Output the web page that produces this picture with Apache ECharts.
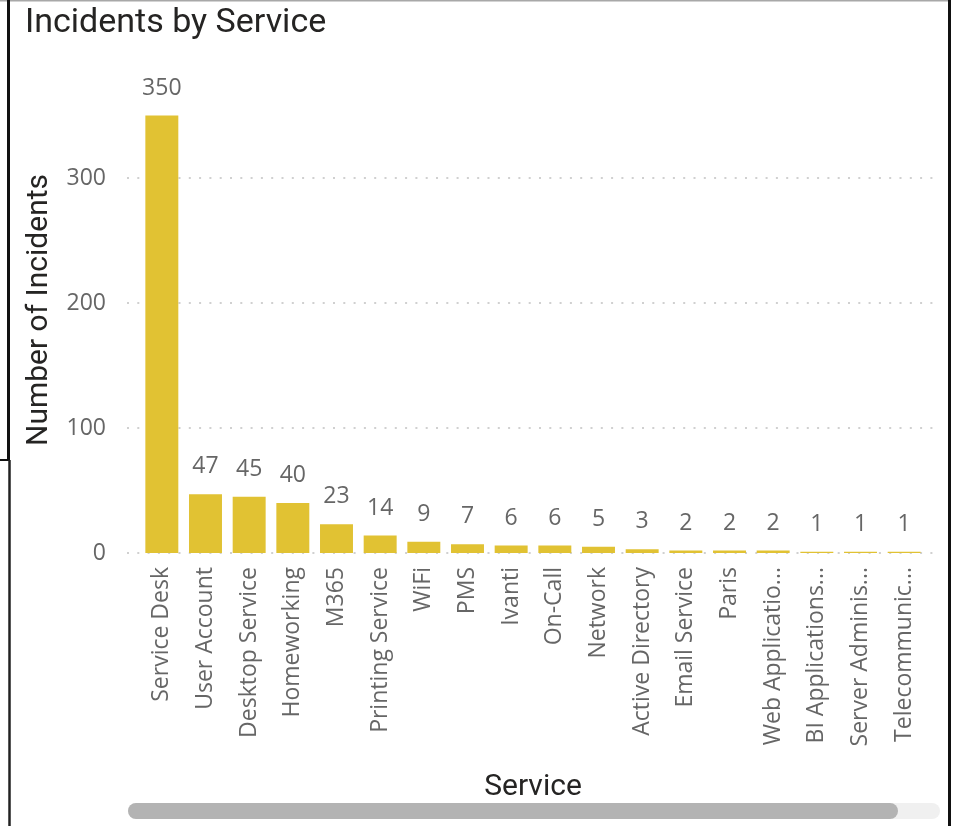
<!DOCTYPE html>
<html>
<head>
<meta charset="utf-8">
<title>Incidents by Service</title>
<script src="https://cdn.jsdelivr.net/npm/echarts@6/dist/echarts.min.js"></script>
<style>
  html, body { margin: 0; padding: 0; background: #ffffff; }
  #chart { width: 954px; height: 826px; }
</style>
</head>
<body>
<div id="chart"></div>
<script>
// Service categories, as shown on the axis
const services = [
  'Service Desk', 'User Account', 'Desktop Service', 'Homeworking', 'M365',
  'Printing Service', 'WiFi', 'PMS', 'Ivanti', 'On-Call', 'Network',
  'Active Directory', 'Email Service', 'Paris', 'Web Applicatio...',
  'BI Applications...', 'Server Adminis...', 'Telecommunic...'
];

// Incident count per service
const incidents = [350, 47, 45, 40, 23, 14, 9, 7, 6, 6, 5, 3, 2, 2, 2, 1, 1, 1];

// Value axis range and tick step
const valueMin = 0;
const valueMax = 400;
const valueStep = 100;

const chart = echarts.init(document.getElementById('chart'), null, { renderer: 'canvas' });

const bodyFont = '"Open Sans", "Noto Sans", sans-serif';
const headFont = 'Roboto, "DejaVu Sans", sans-serif';
const gridLineColor = '#d0d0d0';

// split lines at every tick except the top one
const tickCount = Math.round((valueMax - valueMin) / valueStep) + 1;
const splitColors = [];
for (let i = 0; i < tickCount; i++) {
  splitColors.push(i === tickCount - 1 ? 'rgba(0,0,0,0)' : gridLineColor);
}

const option = {
  backgroundColor: '#ffffff',
  animation: false,
  title: {
    text: 'Incidents by Service',
    left: 20,
    top: 1,
    textStyle: {
      fontFamily: headFont,
      fontSize: 34,
      fontWeight: 'normal',
      color: '#252423'
    }
  },
  grid: [
    { left: 140, right: 28, top: 53, bottom: 273 },
    { left: 127, right: 18, top: 53, bottom: 273 }
  ],
  xAxis: [
    {
      type: 'category',
      gridIndex: 0,
      data: services,
      name: 'Service',
      nameLocation: 'middle',
      nameGap: 219,
      nameTextStyle: {
        fontFamily: headFont,
        fontSize: 30,
        color: '#252423'
      },
      axisLine: { show: false },
      axisTick: { show: false },
      axisLabel: {
        rotate: 90,
        interval: 0,
        margin: 14,
        fontFamily: bodyFont,
        fontSize: 23,
        color: '#666666'
      }
    },
    {
      type: 'value',
      gridIndex: 1,
      show: false,
      min: 0,
      max: 1
    }
  ],
  yAxis: [
    {
      type: 'value',
      gridIndex: 0,
      min: valueMin,
      max: valueMax,
      interval: valueStep,
      show: false
    },
    {
      type: 'value',
      gridIndex: 1,
      min: valueMin,
      max: valueMax,
      interval: valueStep,
      name: 'Number of Incidents',
      nameLocation: 'middle',
      nameGap: 73,
      nameRotate: 90,
      nameTextStyle: {
        fontFamily: headFont,
        fontSize: 30,
        color: '#252423',
        padding: [0, 14, 0, 0]
      },
      axisLine: { show: false },
      axisTick: { show: false },
      axisLabel: {
        margin: 21,
        showMaxLabel: false,
        fontFamily: bodyFont,
        fontSize: 23,
        color: '#666666'
      },
      splitLine: {
        show: true,
        lineStyle: {
          color: splitColors,
          width: 2,
          type: [2, 8.3]
        }
      }
    }
  ],
  series: [
    {
      type: 'bar',
      xAxisIndex: 0,
      yAxisIndex: 0,
      data: incidents,
      barCategoryGap: '24.5%',
      itemStyle: { color: '#E1C233' },
      label: {
        show: true,
        position: 'top',
        distance: 16,
        fontFamily: bodyFont,
        fontSize: 23,
        color: '#666666'
      }
    }
  ],
  graphic: [
    // frame edges
    { type: 'line', silent: true, shape: { x1: 0, y1: 0.5, x2: 948, y2: 0.5 }, style: { stroke: '#a8a8a8', lineWidth: 2 } },
    { type: 'line', silent: true, shape: { x1: 8.5, y1: 0, x2: 8.5, y2: 460 }, style: { stroke: '#111111', lineWidth: 3 } },
    { type: 'line', silent: true, shape: { x1: 0, y1: 460, x2: 9, y2: 460 }, style: { stroke: '#111111', lineWidth: 2 } },
    { type: 'line', silent: true, shape: { x1: 9.5, y1: 460, x2: 9.5, y2: 826 }, style: { stroke: '#222222', lineWidth: 2.5 } },
    { type: 'line', silent: true, shape: { x1: 949.5, y1: 0, x2: 949.5, y2: 826 }, style: { stroke: '#111111', lineWidth: 3 } },
    // horizontal scroll bar
    { type: 'rect', silent: true, shape: { x: 128, y: 803, width: 812, height: 16, r: 8 }, style: { fill: '#f0f0f0' } },
    { type: 'rect', silent: true, shape: { x: 128, y: 803, width: 770, height: 16, r: 8 }, style: { fill: '#b3b3b3' } }
  ]
};

chart.setOption(option);
</script>
</body>
</html>
